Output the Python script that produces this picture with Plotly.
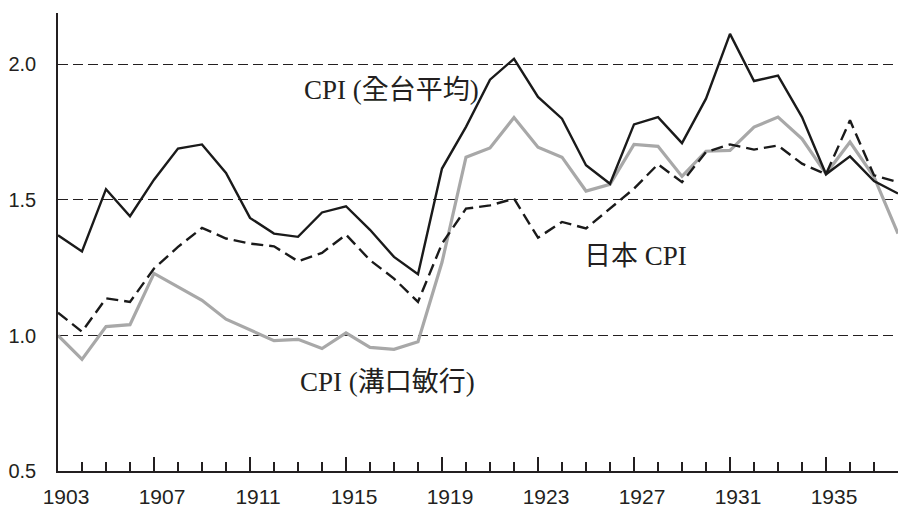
import plotly.graph_objects as go

years = list(range(1903, 1939))

cpi_taiwan = [1.37, 1.31, 1.54, 1.44, 1.575, 1.69, 1.705, 1.60, 1.434, 1.376, 1.364, 1.454,
              1.477, 1.39, 1.29, 1.226, 1.616, 1.77, 1.944, 2.021, 1.88, 1.80,
              1.628, 1.56, 1.779, 1.806, 1.71, 1.874, 2.113, 1.939, 1.959, 1.806,
              1.595, 1.661, 1.57, 1.524]

cpi_japan = [1.084, 1.014, 1.137, 1.124, 1.247, 1.327, 1.397, 1.358, 1.339, 1.329, 1.274, 1.305,
             1.372, 1.278, 1.21, 1.124, 1.339, 1.468, 1.48, 1.505, 1.361, 1.419,
             1.395, 1.468, 1.542, 1.632, 1.566, 1.677, 1.705, 1.686, 1.701, 1.634,
             1.595, 1.794, 1.591, 1.566]

cpi_mizoguchi = [1.0, 0.912, 1.033, 1.04, 1.229, 1.18, 1.13, 1.06, 1.02, 0.981, 0.986, 0.952,
                 1.01, 0.956, 0.949, 0.977, 1.27, 1.658, 1.692, 1.804, 1.695, 1.658,
                 1.533, 1.558, 1.705, 1.698, 1.587, 1.68, 1.683, 1.769, 1.806, 1.726,
                 1.597, 1.714, 1.585, 1.376]

y_tickvals = [0.5, 1.0, 1.5, 2.0]
y_ticktext = ["0.5", "1.0", "1.5", "2.0"]

label_taiwan = "CPI (全台平均)"
label_japan = "日本 CPI"
label_mizoguchi = "CPI (溝口敏行)"

fig = go.Figure()
fig.add_trace(go.Scatter(x=years, y=cpi_mizoguchi, mode="lines",
                         line=dict(color="#a8a8a8", width=3.2), name=label_mizoguchi))
fig.add_trace(go.Scatter(x=years, y=cpi_japan, mode="lines",
                         line=dict(color="#1a1a1a", width=2.4, dash="12px,6px"), name=label_japan))
fig.add_trace(go.Scatter(x=years, y=cpi_taiwan, mode="lines",
                         line=dict(color="#1a1a1a", width=2.4), name=label_taiwan))

ann_font = dict(family="'Liberation Serif', 'Noto Sans CJK TC', serif", size=27, color="#231f20")
fig.add_annotation(x=1913.15, y=1.906, text=label_taiwan, showarrow=False,
                   xanchor="left", yanchor="middle", font=ann_font)
fig.add_annotation(x=1924.85, y=1.295, text=label_japan, showarrow=False,
                   xanchor="left", yanchor="middle", font=ann_font)
fig.add_annotation(x=1913.0, y=0.83, text=label_mizoguchi, showarrow=False,
                   xanchor="left", yanchor="middle", font=ann_font)

fig.update_layout(
    width=898, height=509,
    margin=dict(l=58, r=0, t=13, b=38),
    plot_bgcolor="white", paper_bgcolor="white",
    showlegend=False,
    font=dict(family="'Liberation Sans', Arial, sans-serif", size=20, color="#231f20"),
)
fig.update_xaxes(
    range=[1903, 1938],
    tick0=1903, dtick=4,
    ticks="inside", ticklen=14, tickwidth=1.5, tickcolor="#231f20",
    minor=dict(ticks="inside", ticklen=9, tickwidth=1.5, tickcolor="#231f20", dtick=1, tick0=1903),
    showline=True, linecolor="#231f20", linewidth=1.5,
    showgrid=False, zeroline=False, automargin=False,
    tickfont=dict(size=21),
    ticklabelshift=8, ticklabelstandoff=6,
)
fig.update_yaxes(
    range=[0.5, 2.19],
    tickvals=y_tickvals, ticktext=y_ticktext,
    ticks="", showline=True, linecolor="#231f20", linewidth=1.5,
    showgrid=True, gridcolor="#231f20", gridwidth=1.2, griddash="10px,5px",
    zeroline=False, automargin=False, ticklabelstandoff=16,
)

fig.write_html(
    "out.html",
    config={"displayModeBar": False},
    post_script="document.body.style.margin='0';document.body.style.overflow='hidden';",
)
